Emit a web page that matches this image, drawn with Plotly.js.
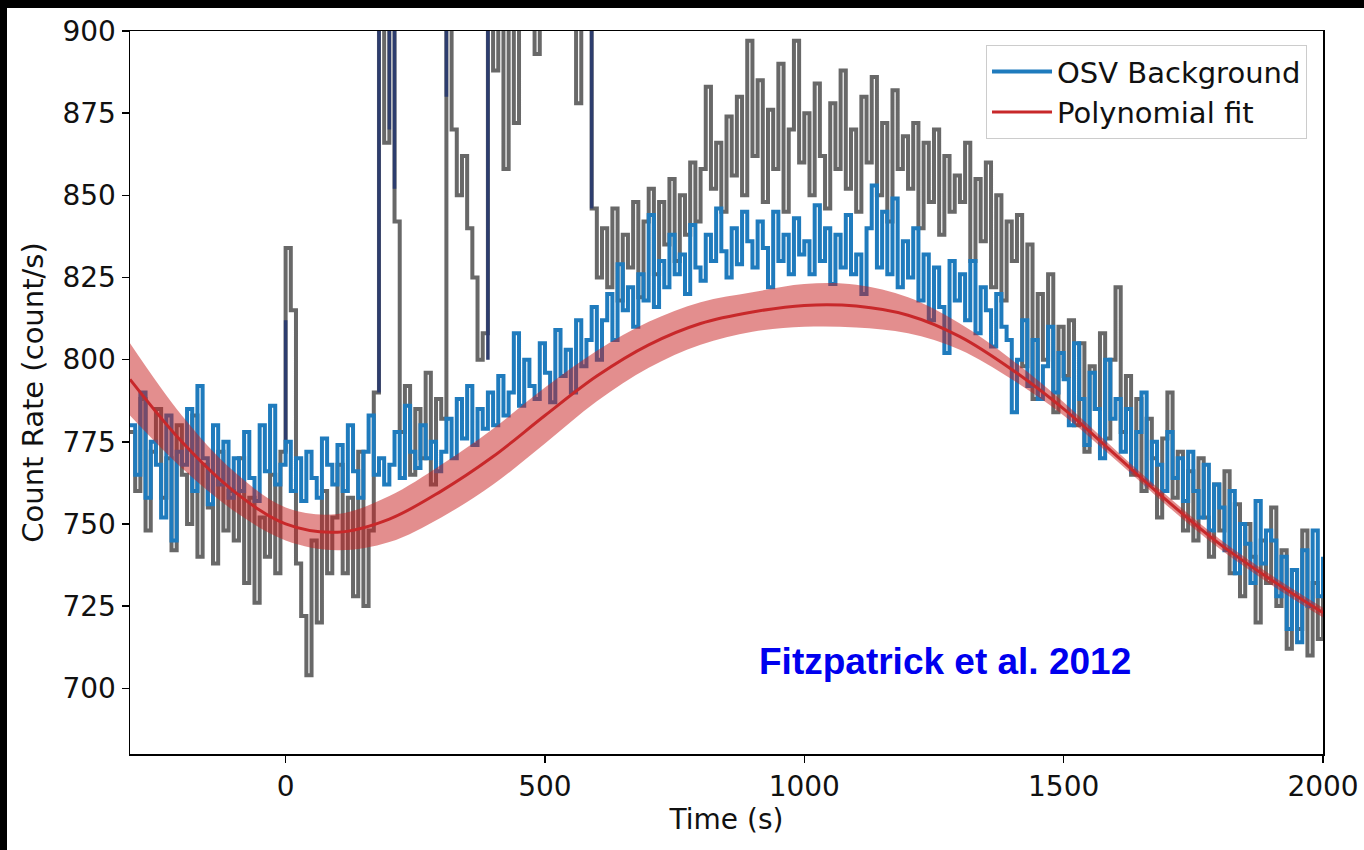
<!DOCTYPE html>
<html>
<head>
<meta charset="utf-8">
<script src="https://cdn.plot.ly/plotly-3.0.1.min.js"></script>
<style>
  html, body { margin: 0; padding: 0; background: #000; width: 1364px; height: 850px; overflow: hidden; }
  #chart { position: absolute; left: 7px; top: 8px; width: 1357px; height: 842px; background: #fff; }
</style>
</head>
<body>
<div id="chart"></div>
<script>
// ---- data ----
const binStart = -300;   // s
const binWidth = 10;     // s

// raw count rate (grey), one value per 10 s bin from -300 s to 2000 s
const rawRate = [
  778, 760, 788, 748, 772, 785, 758, 770, 742, 780,
  765, 750, 783, 740, 768, 755, 738, 772, 748, 760,
  745, 770, 732, 758, 726, 752, 740, 765, 735, 772,
  834, 815, 738, 722, 704, 745, 720, 760, 735, 752,
  768, 735, 758, 728, 772, 725, 748, 790, 935, 866,
  930, 842, 778, 792, 765, 785, 770, 796, 762, 788,
  782, 915, 870, 850, 862, 840, 825, 800, 808, 930,
  888, 920, 858, 905, 872, 935, 940, 945, 893, 938,
  945, 950, 940, 935, 945, 930, 878, 940, 950, 846,
  825, 840, 822, 846, 818, 838, 828, 848, 819, 842,
  852, 826, 848, 835, 855, 830, 850, 838, 860, 842,
  858, 883, 852, 866, 845, 874, 856, 880, 850, 897,
  862, 885, 848, 876, 858, 890, 845, 870, 897, 860,
  875, 850, 884, 862, 846, 878, 858, 888, 852, 870,
  845, 880, 860, 886, 850, 872, 842, 882, 858, 868,
  852, 872, 840, 866, 848, 870, 838, 862, 845, 856,
  848, 866, 830, 855, 836, 860, 822, 850, 818, 842,
  830, 844, 798, 835, 788, 820, 800, 826, 784, 810,
  795, 812, 780, 805, 772, 798, 785, 808, 776, 800,
  822, 778, 795, 765, 788, 760, 782, 770, 752, 776,
  790, 758, 772, 748, 766, 745, 770, 752, 740, 762,
  748, 766, 735, 756, 728, 750, 740, 720, 745, 732,
  755, 725, 742, 712, 736, 718, 748, 710, 732, 715,
  728
];

// OSV background (blue), same bins
const osvRate = [
  780, 765, 790, 758, 775, 768, 752, 783, 745, 772,
  768, 785, 760, 792, 770, 756, 780, 762, 775, 758,
  770, 760, 778, 764, 757, 780, 766, 786, 762, 768,
  775, 760, 770, 757, 772, 764, 758, 776, 768, 762,
  774, 760, 780, 766, 758, 772, 783, 765, 770, 762,
  768, 778, 764, 786, 772, 767, 780, 770, 775, 766,
  772, 782, 770, 788, 776, 792, 774, 785, 779, 790,
  780, 795, 783, 790, 808, 786, 800, 792, 788, 805,
  796, 787, 809, 795, 803, 790, 812, 798, 806, 816,
  800, 812, 820, 806, 829, 815, 822, 810, 826, 818,
  844, 816, 830, 822, 838, 826, 832, 820, 841, 828,
  824, 838, 830, 846, 833, 825, 840, 829, 845, 836,
  828, 842, 834, 822, 845, 830, 838, 826, 843, 832,
  836, 826, 847, 830, 840, 823, 838, 828, 844, 826,
  832, 820, 840, 853, 828, 845, 826, 849, 822, 836,
  825, 840, 818, 832, 812, 828, 816, 802, 830, 818,
  826, 812, 830, 808, 822, 815, 804, 820, 810, 806,
  784, 800, 812, 792, 806, 788, 798, 810, 790, 802,
  794, 780, 805, 788, 774, 796, 785, 770, 800, 782,
  788, 772, 785, 766, 778, 790, 762, 775, 768, 760,
  778, 764, 770, 757, 772, 760, 752, 768, 748, 762,
  755, 742, 760, 735, 750, 744, 732, 757, 738, 748,
  745, 728, 740, 718, 736, 714, 742, 725, 748, 728,
  740
];

// dark (navy) spike segments visible in the raw data
const spikeTime = [0, 0, null, 180, 180, null, 200, 200, null, 210, 210, null, 310, 310, null, 390, 390, null, 590, 590];
const spikeRate = [772, 812, null, 790, 960, null, 870, 960, null, 852, 960, null, 880, 960, null, 800, 960, null, 846, 960];

// polynomial fit and its band
const fitTime  = [-300, -200, -100, 0, 100, 200, 300, 400, 500, 600, 700, 800, 900, 1000, 1100, 1200, 1300, 1400, 1500, 1600, 1700, 1800, 1900, 2000];
const fitRate  = [794, 775, 760, 750, 747.5, 751.5, 760, 770.5, 783, 795, 804.5, 811, 814.5, 816.5, 816.3, 813.5, 807, 797, 785, 771, 757, 744, 733, 723];
const fitUpper = [805, 783, 766, 755, 753, 758.5, 768, 779, 791.5, 802.7, 811.5, 817.5, 820.5, 823, 822.8, 819, 811, 800, 787, 772.5, 758.5, 745.5, 734.5, 724.5];
const fitLower = [783, 767, 754, 745, 742, 744.5, 752, 762, 774.5, 787.3, 797.5, 804.5, 808.5, 810, 809.8, 808, 803, 794, 783, 769.5, 755.5, 742.5, 731.5, 721.5];

const xTickVals = [0, 500, 1000, 1500, 2000];
const yTickVals = [700, 725, 750, 775, 800, 825, 850, 875, 900];
const legendNames = ['OSV Background', 'Polynomial fit'];
const creditText = 'Fitzpatrick et al. 2012';

// ---- build ----
const timeBins = rawRate.map((_, i) => binStart + i * binWidth);
const FONT = 'DejaVu Sans, sans-serif';

const traces = [
  { x: timeBins, y: rawRate, type: 'scatter', mode: 'lines',
    line: { color: '#686868', width: 4, shape: 'hv' }, showlegend: false, hoverinfo: 'skip' },
  { x: spikeTime, y: spikeRate, type: 'scatter', mode: 'lines', connectgaps: false,
    line: { color: '#2d3d6e', width: 3.5 }, showlegend: false, hoverinfo: 'skip' },
  { x: timeBins, y: osvRate, type: 'scatter', mode: 'lines', name: legendNames[0],
    line: { color: '#1f7bbd', width: 4, shape: 'hv' } },
  { x: fitTime, y: fitLower, type: 'scatter', mode: 'lines',
    line: { color: 'rgba(0,0,0,0)', width: 0, shape: 'spline' }, showlegend: false, hoverinfo: 'skip' },
  { x: fitTime, y: fitUpper, type: 'scatter', mode: 'lines', fill: 'tonexty',
    fillcolor: 'rgba(200,30,30,0.5)',
    line: { color: 'rgba(0,0,0,0)', width: 0, shape: 'spline' }, showlegend: false, hoverinfo: 'skip' },
  { x: fitTime, y: fitRate, type: 'scatter', mode: 'lines', name: legendNames[1],
    line: { color: '#c8282a', width: 3, shape: 'spline' } }
];

const axisCommon = {
  showgrid: false, zeroline: false, showline: true, mirror: true,
  linecolor: '#000', linewidth: 1.5, ticks: 'outside', ticklen: 7, tickwidth: 1.5,
  tickcolor: '#000', tickfont: { family: FONT, size: 28, color: '#111' }
};

const layout = {
  width: 1357, height: 842,
  margin: { l: 123, r: 41, t: 23, b: 96 },
  paper_bgcolor: '#fff', plot_bgcolor: '#fff',
  xaxis: Object.assign({}, axisCommon, {
    range: [-300, 2000], tickvals: xTickVals,
    title: { text: 'Time (s)', font: { family: FONT, size: 28, color: '#111' }, standoff: 4 }
  }),
  yaxis: Object.assign({}, axisCommon, {
    range: [680, 900], tickvals: yTickVals,
    title: { text: 'Count Rate (count/s)', font: { family: FONT, size: 29, color: '#111' }, standoff: 10 }
  }),
  legend: {
    x: 0.9866, y: 0.9806, xanchor: 'right', yanchor: 'top', traceorder: 'normal',
    bgcolor: 'rgba(255,255,255,0.85)', bordercolor: '#cccccc', borderwidth: 1,
    font: { family: FONT, size: 29, color: '#111' }, itemwidth: 60
  },
  annotations: [{
    text: creditText, xref: 'x', yref: 'y', x: 1272, y: 708,
    xanchor: 'center', yanchor: 'middle', showarrow: false,
    font: { family: 'Liberation Sans, Arial, sans-serif', size: 37, color: '#0000ee', weight: 'bold' }
  }],
  showlegend: true
};

Plotly.newPlot('chart', traces, layout, { displayModeBar: false, staticPlot: true });
</script>
</body>
</html>
